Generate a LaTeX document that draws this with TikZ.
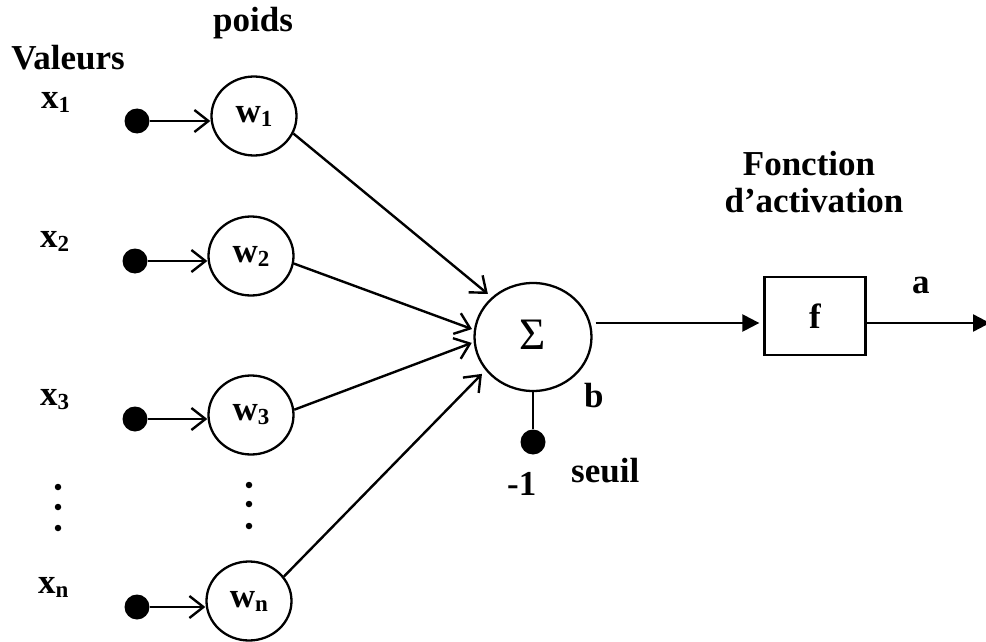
\documentclass[tikz,border=0pt]{standalone}
\usepackage{fontspec}
\setmainfont{Liberation Serif}
\usetikzlibrary{shapes.geometric,arrows.meta}
\newcommand{\sbs}[1]{\raisebox{-4pt}{\fontsize{23}{23}\selectfont #1}}
\begin{document}
\begin{tikzpicture}[x=1pt,y=-1pt,
  bigfont/.style={font=\fontsize{35}{40}\selectfont\bfseries},
  lbl/.style={bigfont, inner sep=0pt},
  wnode/.style={ellipse, draw, line width=2.3pt, minimum width=85pt, minimum height=79pt, inner sep=0pt, bigfont},
  bigdot/.style={circle, fill, inner sep=0pt, minimum size=25pt},
  smalldot/.style={circle, fill, inner sep=0pt, minimum size=6.5pt},
  wire/.style={line width=2.4pt},
  openarr/.style={wire, -{Straight Barb[length=14pt,width=22pt]}},
  fullarr/.style={wire, -{Triangle[length=17pt,width=17pt]}}
]
\useasboundingbox (0,0) rectangle (986,642);

% headings
\node[lbl, anchor=base] (poids) at (253,32) {poids};
\node[lbl, anchor=base] (valeurs) at (68,70) {Valeurs};

% input labels
\node[lbl, anchor=base west] (lx1) at (41,108) {x\sbs{1}};
\node[lbl, anchor=base west] (lx2) at (40,247) {x\sbs{2}};
\node[lbl, anchor=base west] (lx3) at (40,405) {x\sbs{3}};
\node[lbl, anchor=base west] (lxn) at (38,593) {x\sbs{n}};

% input dots
\node[bigdot] (xd1) at (137,121) {};
\node[bigdot] (xd2) at (135,261) {};
\node[bigdot] (xd3) at (135,419) {};
\node[bigdot] (xdn) at (137,607) {};

% weight nodes
\node[wnode] (w1) at (254,116) {w\sbs{1}};
\node[wnode] (w2) at (251,256) {w\sbs{2}};
\node[wnode] (w3) at (251,415) {w\sbs{3}};
\node[wnode] (wn) at (249,601) {w\sbs{n}};

% ellipsis dots
\node[smalldot] (ld1) at (58,487) {};
\node[smalldot] (ld2) at (58,507) {};
\node[smalldot] (ld3) at (58,528) {};
\node[smalldot] (rd1) at (249,485) {};
\node[smalldot] (rd2) at (249,504) {};
\node[smalldot] (rd3) at (249,526) {};

% summation
\node[ellipse, draw, line width=2.3pt, minimum width=117pt, minimum height=108pt, inner sep=0pt,
      font=\fontsize{45}{45}\selectfont] (sig) at (533,337) {\raisebox{4pt}{Σ}};

% bias
\node[bigdot] (bias) at (533,442) {};
\node[lbl, anchor=base west] (lb) at (584,407) {b};
\node[lbl, anchor=base west] (lm1) at (507,495) {-1};
\node[lbl, anchor=base west] (lseuil) at (571,482) {seuil};

% activation
\node[draw, line width=2.3pt, minimum width=101pt, minimum height=78pt, inner sep=0pt, bigfont] (f) at (815,316) {f};
\node[lbl, anchor=base] (fonction) at (809,175) {Fonction};
\node[lbl, anchor=base] (dact) at (814,212) {d’activation};
\node[lbl, anchor=base west] (la) at (912,293) {a};

\coordinate (fin) at (765,323);
\coordinate (out) at (990,323);

% connectors
\draw[openarr] (xd1) -- (xd1 -| w1.west);
\draw[openarr] (xd2) -- (xd2 -| w2.west);
\draw[openarr] (xd3) -- (xd3 -| w3.west);
\draw[openarr] (xdn) -- (xdn -| wn.west);

\draw[openarr, shorten >=5pt] (w1.-24) -- (sig.136);
\draw[openarr, shorten >=2pt] (w2.-10) -- (sig.173.5);
\draw[openarr, shorten >=2pt] (w3.7) -- (sig.185);
\draw[openarr, shorten >=5pt] (wn.35) -- (sig.215);

\draw[wire] (sig.south) -- (bias);
\draw[fullarr, shorten >=4pt] ([xshift=3pt]sig.east |- fin) -- (f.west |- fin);
\draw[fullarr] (f.east |- fin) -- (out);
\end{tikzpicture}
\end{document}
